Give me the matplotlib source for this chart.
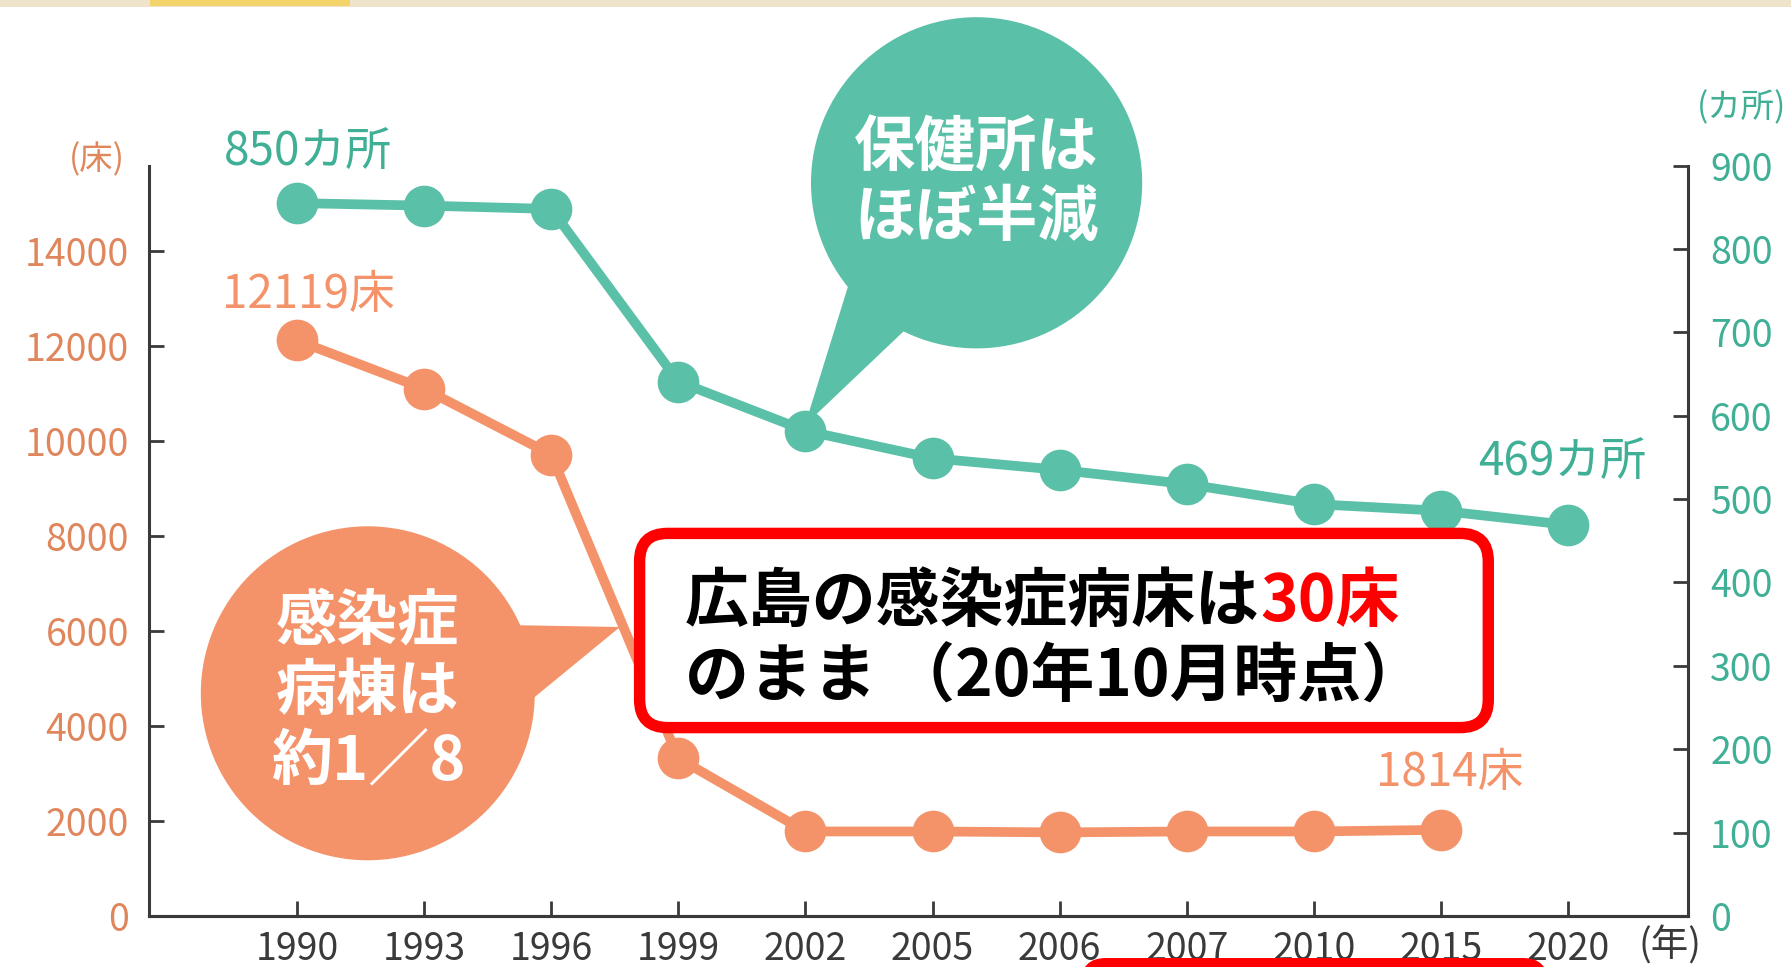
import matplotlib.pyplot as plt
from matplotlib.patches import Circle, Polygon, FancyBboxPatch, Rectangle

plt.rcParams['font.family'] = ['Noto Sans CJK JP', 'DejaVu Sans']

years = ['1990', '1993', '1996', '1999', '2002', '2005', '2006', '2007', '2010', '2015', '2020']
centers = [855, 852, 848, 641, 582, 549, 535, 518, 494, 486, 469]
beds = [12119, 11100, 9716, 3321, 1780, 1780, 1760, 1780, 1780, 1814]
bed_ticks = [0, 2000, 4000, 6000, 8000, 10000, 12000, 14000]
center_ticks = [0, 100, 200, 300, 400, 500, 600, 700, 800, 900]

green = '#5BC0A8'
green_txt = '#3FAF95'
orange = '#F4936A'
orange_txt = '#E0865C'
red = '#FF0000'
gray = '#3A3A3A'

W, H = 1791, 967
fig = plt.figure(figsize=(W / 100, H / 100), dpi=100)
fig.patch.set_facecolor('white')

ax = fig.add_axes([148.5 / W, 51 / H, (1688 - 148.5) / W, (916 - 165.6) / H])
ax2 = ax.twinx()

x = list(range(len(years)))
ax.plot(x[:len(beds)], beds, color=orange, lw=7, marker='o', ms=29, zorder=3)
ax2.plot(x, centers, color=green, lw=7, marker='o', ms=29, zorder=3)

ax.set_xlim(-1.168, 10.943)
ax.set_ylim(0, 15800)
ax2.set_ylim(0, 900)

ax.set_xticks(x)
ax.set_xticklabels(years)
ax.set_yticks(bed_ticks)
ax.set_yticklabels([str(v) for v in bed_ticks])
ax2.set_yticks(center_ticks)
ax2.set_yticklabels([str(v) for v in center_ticks])

for a in (ax, ax2):
    for s in a.spines.values():
        s.set_linewidth(2.2)
        s.set_color(gray)
    a.spines['top'].set_visible(False)
    a.set_facecolor('none')
ax2.spines['left'].set_visible(False)
ax.spines['right'].set_visible(False)

ax.tick_params(axis='x', direction='in', length=11, width=2, color=gray,
               labelsize=27, labelcolor=gray, pad=10)
ax.tick_params(axis='y', direction='in', length=11, width=2, color=gray,
               labelsize=27, labelcolor=orange_txt, pad=14)
ax2.tick_params(axis='y', direction='in', length=11, width=2, color=gray,
                labelsize=27, labelcolor=green_txt, pad=16)

# data labels
ax2.annotate('850カ所', (x[0], centers[0]), xytext=(8, 36), textcoords='offset points',
             ha='center', va='center', fontsize=33, color=green_txt, zorder=5)
ax.annotate('12119床', (x[0], beds[0]), xytext=(8, 33), textcoords='offset points',
            ha='center', va='center', fontsize=33, color=orange, zorder=5)
ax2.annotate('469カ所', (x[10], centers[10]), xytext=(-4, 45), textcoords='offset points',
             ha='center', va='center', fontsize=33, color=green_txt, zorder=5)
ax.annotate('1814床', (x[9], beds[9]), xytext=(6, 41), textcoords='offset points',
            ha='center', va='center', fontsize=33, color=orange, zorder=5)

# overlay in pixel coordinates for callouts
ov = fig.add_axes([0, 0, 1, 1])
ov.set_xlim(0, W)
ov.set_ylim(H, 0)
ov.axis('off')

ov.add_patch(Rectangle((0, 0), W, 7, color='#EFE3CB', lw=0))
ov.add_patch(Rectangle((150, 0), 200, 6, color='#F3D46A', lw=0))

# green bubble
ov.add_patch(Circle((976.6, 182.8), 165.6, color=green, lw=0))
ov.add_patch(Polygon([(850, 280), (905, 330), (805, 425)], closed=True, color=green, lw=0))
ov.text(976.6, 148, '保健所は', ha='center', va='center', fontsize=44,
        fontweight='bold', color='white')
ov.text(976.6, 218, 'ほぼ半減', ha='center', va='center', fontsize=44,
        fontweight='bold', color='white')

# orange bubble
ov.add_patch(Circle((367.8, 693.3), 167, color=orange, lw=0))
ov.add_patch(Polygon([(505, 625), (525, 705), (620, 627)], closed=True, color=orange, lw=0))
for i, line in enumerate(['感染症', '病棟は', '約1／8']):
    ov.text(367.8, 622 + i * 70, line, ha='center', va='center', fontsize=44,
            fontweight='bold', color='white')

# red note box
ov.add_patch(FancyBboxPatch((639.6 + 28, 533.4 + 28), 848.7 - 56, 194.2 - 56,
                            boxstyle='round,pad=28', fc='white', ec=red, lw=8.2))
t1 = ov.text(685, 602, '広島の感染症病床は', ha='left', va='center', fontsize=46,
             fontweight='bold', color='black')
ov.annotate('30床', xy=(1, 0.5), xycoords=t1, ha='left', va='center', fontsize=46,
            fontweight='bold', color=red)
ov.text(685, 678, 'のまま （20年10月時点）', ha='left', va='center', fontsize=46,
        fontweight='bold', color='black')

# partial red box at bottom
ov.add_patch(FancyBboxPatch((1081 + 25, 958 + 25), 467 - 50, 60,
                            boxstyle='round,pad=25', fc=red, ec='none'))

# axis unit labels
ov.text(97, 160, '(床)', ha='center', va='center', fontsize=24, color=orange_txt)
ov.text(1742, 108, '(カ所)', ha='center', va='center', fontsize=24, color=green_txt)
ov.text(1670, 946, '(年)', ha='center', va='center', fontsize=27, color=gray)

fig.savefig('out.png', dpi=100)
